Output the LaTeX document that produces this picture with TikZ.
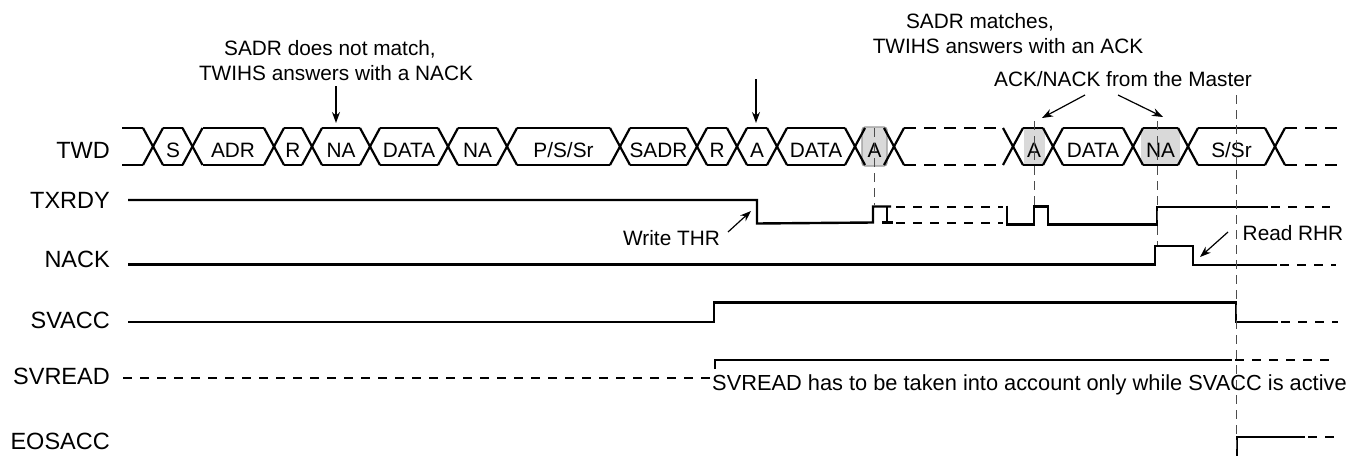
\documentclass[tikz,border=0pt]{standalone}
\usepackage{fontspec}
\setmainfont{Liberation Sans}
\usetikzlibrary{arrows.meta}
\begin{document}
\begin{tikzpicture}[x=1pt,y=-1pt,
  sig/.style={line width=2.4pt, line join=miter},
  sigdash/.style={line width=2.4pt, dash pattern=on 9pt off 8pt},
  bus/.style={line width=2.2pt, line join=miter},
  busdash/.style={line width=2.2pt, dash pattern=on 12pt off 8pt},
  guide/.style={line width=1pt, draw=black!70, dash pattern=on 9pt off 6pt},
  ann/.style={-{Stealth[length=11pt,width=8pt]}, line width=1.2pt},
  lbl/.style={font=\fontsize{23.5}{26}\selectfont, anchor=base east, inner sep=0pt},
  btxt/.style={font=\fontsize{20.8}{23}\selectfont, anchor=base, inner sep=0pt},
  atxt/.style={font=\fontsize{20.8}{23}\selectfont, anchor=base, inner sep=0pt},
]
\useasboundingbox (0,0) rectangle (1359,455);

% ---------- signal names ----------
\node[lbl] (lTWD) at (110,158) {TWD};
\node[lbl] (lTX)  at (110,208) {TXRDY};
\node[lbl] (lNA)  at (110,267) {NACK};
\node[lbl] (lSVA) at (110,328) {SVACC};
\node[lbl] (lSVR) at (110,384) {SVREAD};
\node[lbl] (lEOS) at (110,449) {EOSACC};

% ---------- TWD bus ----------
\def\Ty{128}\def\By{165}
% highlighted cells
\draw[fill=black!15, draw=black!40, line width=1.2pt, rounded corners=3pt] (862,127) rectangle (887,166);
\fill[black!15] (1024,128) rectangle (1045,165);
\fill[black!15] (1141,128) rectangle (1180,165);
% start
\draw[bus] (122,\Ty) -- (143,\Ty);
\draw[bus] (122,\By) -- (143,\By);
% crossings
\foreach \c in {153,192.5,274,312,370,448,507,620,697,737,777,855,894,1013,1053,1133,1188,1275}{
  \draw[bus] (\c-10,\Ty) -- (\c+10,\By);
  \draw[bus] (\c-10,\By) -- (\c+10,\Ty);
}
% cell edges (solid)
\foreach \a/\b in {153/192.5,192.5/274,274/312,312/370,370/448,448/507,507/620,620/697,697/737,737/777,777/855,1013/1053,1053/1133,1133/1188,1188/1275}{
  \draw[bus] (\a+10,\Ty) -- (\b-10,\Ty);
  \draw[bus] (\a+10,\By) -- (\b-10,\By);
}
% dashed parts
\draw[busdash] (904,\Ty) -- (1003,\Ty);
\draw[busdash] (904,\By) -- (1003,\By);
\draw[busdash] (1285,\Ty) -- (1337,\Ty);
\draw[busdash] (1285,\By) -- (1337,\By);
% cell labels
\node[btxt] (bS)    at (173,157.5)   {S};
\node[btxt] (bADR)  at (233,157.5)   {ADR};
\node[btxt] (bR1)   at (293,157.5)   {R};
\node[btxt] (bNA1)  at (341,157.5)   {NA};
\node[btxt] (bD1)   at (409,157.5)   {DATA};
\node[btxt] (bNA2)  at (477.5,157.5) {NA};
\node[btxt] (bPS)   at (563.5,157.5) {P/S/Sr};
\node[btxt] (bSADR) at (658.5,157.5) {SADR};
\node[btxt] (bR2)   at (717,157.5)   {R};
\node[btxt] (bA1)   at (757,157.5)   {A};
\node[btxt] (bD2)   at (816,157.5)   {DATA};
\node[btxt] (bA2)   at (874.5,157.5) {A};
\node[btxt] (bA3)   at (1034,157.5)  {A};
\node[btxt] (bD3)   at (1093,157.5)  {DATA};
\node[btxt] (bNA3)  at (1160.5,157.5){NA};
\node[btxt] (bSSr)  at (1231.5,157.5){S/Sr};

% ---------- TXRDY ----------
\draw[sig] (128,200) -- (757,200) -- (757,223.5) -- (873,222.5) -- (873,206.5) -- (891,206.5);
\draw[sig] (887,206.5) -- (887,222.5);
\draw[sig] (882,222.5) -- (893,222.5);
\draw[sigdash] (896,207) -- (1003,207);
\draw[sigdash] (896,223) -- (1003,223);
\draw[sig] (1007,205.5) -- (1007,224.5) -- (1034,224.5) -- (1034,206.5) -- (1048,206.5) -- (1048,224.5) -- (1157,224.5) -- (1157,207) -- (1268,207);
\draw[sigdash] (1271,207) -- (1330,207);

% ---------- NACK ----------
\draw[sig] (128,264.5) -- (1155,264.5) -- (1155,246) -- (1193,246) -- (1193,265) -- (1277,265);
\draw[sigdash] (1280,265) -- (1336,265);

% ---------- SVACC ----------
\draw[sig] (128,322) -- (714,322) -- (714,302.5) -- (1236,302.5) -- (1236,322) -- (1278,322);
\draw[sigdash] (1281,322) -- (1338,322);

% ---------- SVREAD ----------
\draw[sigdash] (123,378) -- (710,378);
\draw[sig] (715,369) -- (715,360) -- (1232,360);
\draw[sigdash] (1235,360) -- (1334,360);

% ---------- EOSACC ----------
\draw[sig] (1237,456) -- (1237,437) -- (1305,437);
\draw[sigdash] (1308,437) -- (1340,437);

% ---------- guides ----------
\draw[guide] (874,128) -- (874,205);
\draw[guide] (1034,121) -- (1034,205);
\draw[guide] (1157,121) -- (1157,245);
\draw[guide] (1236,95) -- (1236,455);

% ---------- annotations ----------
\node[atxt] (t1a) at (330,55) {SADR does not match,};
\node[atxt] (t1b) at (336,80) {TWIHS answers with a NACK};
\node[atxt] (t2a) at (980,28) {SADR matches,};
\node[atxt] (t2b) at (1008,53) {TWIHS answers with an ACK};
\node[atxt] (t3)  at (1123,86) {ACK/NACK from the Master};
\node[atxt] (t4)  at (671.5,245) {Write THR};
\node[atxt] (t5)  at (1293,240) {Read RHR};
\node[atxt, anchor=base west, font=\fontsize{21.8}{24}\selectfont] (t6) at (712,390) {SVREAD has to be taken into account only while SVACC is active};

\coordinate (a1s) at (336,86);   \coordinate (a1e) at (336,123);
\coordinate (a2s) at (756,79);   \coordinate (a2e) at (756,123);
\coordinate (a3s) at (1085,95);  \coordinate (a3e) at (1042,118);
\coordinate (a4s) at (1118,95);  \coordinate (a4e) at (1163,117);
\coordinate (a5s) at (728,232);  \coordinate (a5e) at (751,211);
\coordinate (a6s) at (1228,232); \coordinate (a6e) at (1200,257);
\draw[ann] (a1s) -- (a1e);
\draw[ann] (a2s) -- (a2e);
\draw[ann] (a3s) -- (a3e);
\draw[ann] (a4s) -- (a4e);
\draw[ann] (a5s) -- (a5e);
\draw[ann] (a6s) -- (a6e);
\end{tikzpicture}
\end{document}
